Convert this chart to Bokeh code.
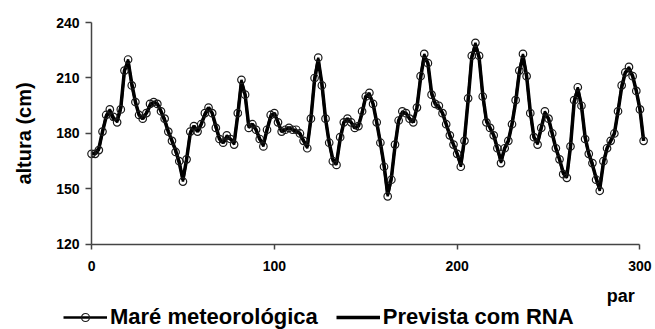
from bokeh.plotting import figure
from bokeh.models import Range1d, FixedTicker, Legend, LegendItem, Label, ColumnDataSource
from bokeh.embed import file_html
from bokeh.resources import INLINE

# Observed storm surge (Maré meteorológica), every 2 "par"
obs = [169, 169, 171, 181, 190, 193, 189, 186, 193, 214, 220, 206, 197, 190, 188, 191,
       196, 197, 196, 192, 188, 181, 176, 170, 165, 154, 166, 181, 184, 181, 185, 191,
       194, 191, 183, 177, 175, 179, 177, 174, 191, 209, 201, 183, 185, 182, 177, 173,
       182, 190, 191, 186, 181, 182, 183, 182, 182, 180, 176, 172, 188, 210, 221, 206,
       188, 175, 165, 163, 178, 186, 188, 186, 183, 184, 192, 200, 202, 196, 186, 175,
       162, 146, 155, 174, 187, 192, 191, 188, 186, 194, 211, 223, 218, 201, 196, 195,
       191, 185, 179, 174, 169, 162, 176, 199, 222, 229, 222, 200, 186, 183, 179, 172,
       164, 172, 176, 185, 198, 214, 223, 211, 191, 178, 174, 183, 192, 188, 180, 172,
       166, 158, 156, 173, 198, 205, 195, 177, 169, 164, 155, 149, 165, 172, 176, 180,
       192, 206, 213, 216, 211, 203, 193, 176]

# Predicted by the neural network (Prevista com RNA)
pred = [169, 169, 172, 181, 189, 192, 188, 187, 194, 214, 219, 207, 197, 190, 188, 191,
        195, 197, 196, 192, 187, 181, 176, 171, 164, 155, 166, 180, 184, 181, 185, 190,
        194, 191, 184, 177, 175, 178, 177, 175, 190, 208, 201, 184, 185, 182, 177, 174,
        182, 189, 191, 186, 181, 182, 183, 182, 181, 180, 176, 173, 188, 209, 220, 207,
        188, 175, 166, 164, 177, 186, 188, 186, 183, 184, 191, 200, 201, 196, 186, 175,
        163, 147, 156, 173, 187, 191, 191, 188, 186, 194, 210, 222, 218, 202, 196, 194,
        191, 185, 179, 174, 169, 163, 177, 198, 221, 228, 221, 201, 187, 183, 179, 172,
        165, 172, 176, 185, 197, 213, 222, 211, 192, 178, 175, 183, 191, 188, 180, 172,
        166, 159, 157, 173, 197, 204, 195, 178, 169, 163, 156, 150, 164, 172, 176, 180,
        192, 205, 213, 215, 211, 203, 193, 176]

par = list(range(0, 2 * len(obs), 2))
x_ticks = [0, 100, 200, 300]
y_ticks = [120, 150, 180, 210, 240]

src = ColumnDataSource(dict(par=par, obs=obs, pred=pred))

# frame covers the whole canvas; axes are pinned at x=0 and y=120
p = figure(width=655, height=329, output_backend="svg", toolbar_location=None,
           x_range=Range1d(-49.8, 308.5), y_range=Range1d(74.0, 251.9),
           min_border_left=0, min_border_right=0, min_border_top=0, min_border_bottom=0)
p.outline_line_color = None
p.grid.visible = False
p.background_fill_color = "white"
p.border_fill_color = "white"

r_pred = p.line("par", "pred", source=src, line_color="black", line_width=3.5)
r_obs_line = p.line("par", "obs", source=src, line_color="black", line_width=2.5)
r_obs_pts = p.scatter("par", "obs", source=src, marker="circle", size=7.5,
                      fill_alpha=0, line_color="#1a1a1a", line_width=1.2)

for ax in (p.xaxis[0], p.yaxis[0]):
    ax.axis_line_color = "#444444"
    ax.axis_line_width = 1.5
    ax.major_tick_line_color = "#444444"
    ax.major_tick_line_width = 1.5
    ax.minor_tick_line_color = None
    ax.major_label_text_font = "Liberation Sans"
    ax.major_label_text_font_style = "bold"
    ax.major_label_text_font_size = "14px"
    ax.major_label_text_color = "black"

p.xaxis.fixed_location = 120
p.xaxis.ticker = FixedTicker(ticks=x_ticks)
p.xaxis.bounds = (0, 300)
p.xaxis.major_tick_out = 5
p.xaxis.major_tick_in = 0
p.xaxis.major_label_standoff = 12

p.yaxis.fixed_location = 0
p.yaxis.ticker = FixedTicker(ticks=y_ticks)
p.yaxis.bounds = (120, 240)
p.yaxis.major_tick_out = 6
p.yaxis.major_tick_in = 0
p.yaxis.major_label_standoff = 6
p.yaxis.axis_label = "altura (cm)"
p.yaxis.axis_label_text_font = "Liberation Sans"
p.yaxis.axis_label_text_font_style = "bold"
p.yaxis.axis_label_text_font_size = "20px"
p.yaxis.axis_label_text_color = "black"
p.yaxis.axis_label_standoff = 18

p.add_layout(Label(x=289.5, y=92, text="par", text_align="center", text_baseline="alphabetic",
                   text_font="Liberation Sans", text_font_style="bold", text_font_size="18px",
                   text_color="black"))

legend = Legend(items=[LegendItem(label="Maré meteorológica", renderers=[r_obs_line, r_obs_pts]),
                       LegendItem(label="Prevista com RNA", renderers=[r_pred])],
                orientation="horizontal", location=(63, -1),
                label_text_font="Liberation Sans", label_text_font_style="bold",
                label_text_font_size="22px", label_text_color="black",
                glyph_width=44, label_standoff=3, spacing=18, padding=0, margin=0,
                background_fill_alpha=0, border_line_color=None)
p.add_layout(legend)

open("out.html", "w").write(file_html(p, INLINE))
